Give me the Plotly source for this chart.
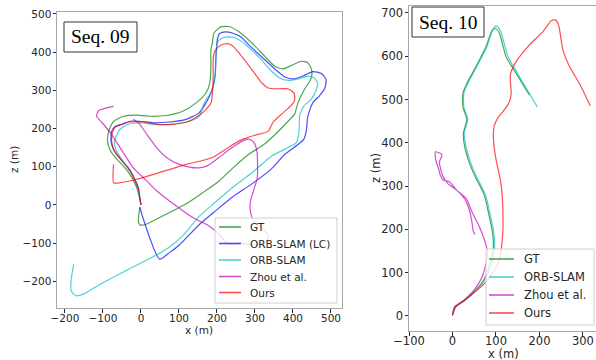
import plotly.graph_objects as go

# ---------------- Seq. 09 data ----------------
gt09_x = [0, -4, -11, -24, -42, -63, -80, -88, -85, -72, -46, -11, 23, 67, 110, 145, 171, 181, 184, 184, 188, 192, 210, 231, 257, 292, 326, 352, 374, 396, 422, 439, 449, 448, 430, 413, 404, 387, 361, 326, 283, 240, 205, 161, 119, 49, 10, -3, -7, -3]
gt09_z = [0, 19, 45, 71, 97, 119, 141, 167, 193, 219, 232, 235, 232, 234, 245, 267, 293, 319, 360, 406, 424, 450, 466, 467, 454, 424, 389, 363, 356, 365, 376, 372, 354, 332, 302, 267, 237, 219, 192, 160, 132, 95, 62, 31, 3, -33, -52, -52, -42, -7]

orblc09_x = [0, -3, -7, -18, -33, -53, -70, -79, -77, -68, -50, -29, -3, 32, 75, 119, 153, 171, 186, 195, 197, 198, 201, 207, 223, 240, 262, 292, 326, 359, 380, 404, 430, 452, 475, 487, 484, 469, 452, 439, 435, 428, 413, 378, 344, 292, 240, 197, 153, 101, 75, 49, 2, -3]
orblc09_z = [0, 19, 45, 71, 97, 119, 141, 167, 193, 205, 211, 219, 219, 215, 217, 224, 241, 267, 298, 337, 380, 398, 433, 449, 453, 450, 440, 411, 380, 350, 334, 330, 339, 349, 344, 328, 306, 285, 267, 232, 193, 171, 158, 132, 95, 55, 20, -15, -52, -105, -125, -142, -24, -5]

orb09_x = [0, -3, -7, -15, -26, -40, -55, -66, -70, -65, -55, -33, -3, 32, 75, 119, 153, 166, 186, 195, 197, 198, 203, 214, 231, 249, 275, 309, 344, 365, 387, 413, 439, 456, 465, 460, 448, 428, 417, 417, 415, 409, 387, 344, 292, 240, 197, 153, 110, 75, 32, -37, -106, -150, -171, -184, -184, -177]
orb09_z = [0, 15, 38, 62, 85, 105, 125, 145, 165, 180, 198, 211, 215, 211, 211, 217, 232, 266, 298, 337, 380, 407, 428, 437, 440, 437, 420, 388, 350, 332, 326, 330, 337, 332, 319, 298, 276, 258, 232, 219, 185, 163, 150, 128, 84, 45, 8, -30, -81, -110, -136, -171, -207, -233, -238, -225, -198, -155]

zhou09_x = [-20, -3, 15, 41, 67, 101, 127, 153, 174, 205, 240, 266, 283, 296, 305, 306, 296, 288, 288, 296, 322, 335, 330, 300, 260, 240, 223, 205, 179, 136, 93, 41, 15, -20, -55, -81, -102, -117, -111, -72]
zhou09_z = [224, 211, 185, 150, 124, 106, 99, 97, 102, 124, 150, 167, 172, 165, 141, 71, 37, 10, -16, -42, -64, -81, -95, -105, -100, -103, -97, -76, -55, -33, -3, 37, 63, 97, 150, 189, 215, 232, 247, 258]

ours09_x = [0, -3, -8, -20, -35, -53, -70, -77, -75, -68, -50, -29, 6, 41, 84, 127, 162, 184, 188, 190, 190, 192, 198, 210, 227, 240, 262, 292, 318, 335, 361, 387, 403, 404, 394, 374, 348, 335, 318, 309, 257, 188, 119, -11, -55, -72, -72]
ours09_z = [0, 20, 45, 72, 97, 119, 141, 165, 190, 203, 211, 217, 217, 211, 211, 219, 241, 266, 293, 337, 380, 395, 407, 418, 422, 417, 393, 354, 319, 306, 304, 304, 292, 272, 259, 241, 217, 193, 187, 185, 167, 124, 106, 67, 58, 58, 106]

# ---------------- Seq. 10 data ----------------
gt10_x = [0, 5, 24, 54, 74, 89, 94, 91, 83, 74, 62, 54, 39, 28, 25, 33, 24, 24, 33, 54, 77, 91, 99, 108, 123, 146, 177]
gt10_z = [2, 21, 33, 60, 87, 129, 160, 199, 237, 276, 303, 318, 353, 391, 422, 454, 483, 514, 537, 576, 622, 659, 664, 653, 599, 561, 510]

orb10_x = [0, 6, 26, 56, 77, 92, 97, 94, 86, 77, 65, 57, 42, 31, 27, 35, 26, 26, 35, 56, 79, 93, 101, 111, 127, 152, 195]
orb10_z = [2, 21, 33, 60, 87, 129, 160, 199, 237, 276, 303, 318, 353, 391, 422, 454, 483, 514, 537, 576, 622, 662, 670, 657, 601, 556, 483]

zhou10_x = [0, 5, 25, 50, 68, 78, 80, 72, 60, 45, 31, 10, -7, -21, -28, -32, -38, -39, -24, -30, -23, -10, 10, 28, 40, 45, 48, 52]
zhou10_z = [0, 20, 35, 60, 90, 125, 150, 180, 210, 240, 272, 290, 310, 314, 325, 340, 358, 379, 372, 355, 325, 305, 290, 270, 240, 215, 195, 188]

ours10_x = [0, 8, 39, 74, 97, 108, 112, 116, 116, 114, 110, 99, 94, 96, 104, 120, 131, 135, 133, 146, 177, 208, 227, 237, 244, 254, 269, 292, 317]
ours10_z = [2, 21, 45, 75, 106, 129, 152, 199, 237, 283, 314, 368, 414, 439, 457, 477, 495, 514, 557, 587, 626, 657, 682, 684, 672, 614, 576, 537, 485]

ticks09_x = [-200, -100, 0, 100, 200, 300, 400, 500]
ticks09_z = [-200, -100, 0, 100, 200, 300, 400, 500]
ticks10_x = [-100, 0, 100, 200, 300]
ticks10_z = [0, 100, 200, 300, 400, 500, 600, 700]

names09 = ["GT", "ORB-SLAM (LC)", "ORB-SLAM", "Zhou et al.", "Ours"]
names10 = ["GT", "ORB-SLAM", "Zhou et al.", "Ours"]

C_GT = "rgba(0,128,0,0.7)"
C_LC = "rgba(0,0,255,0.7)"
C_ORB = "rgba(0,191,191,0.7)"
C_ZHOU = "rgba(191,0,191,0.7)"
C_OURS = "rgba(255,0,0,0.7)"
LW = 1.2
W, H = 596, 360

def px(x):
    return x / W

def py(y):
    return 1 - y / H

fig = go.Figure()

def add(x, z, name, color, xa, ya):
    fig.add_trace(go.Scatter(x=x, y=z, mode="lines", name=name,
                             line=dict(color=color, width=LW, shape="spline", smoothing=0.6),
                             xaxis=xa, yaxis=ya, showlegend=False, hoverinfo="skip"))

cols09 = [C_GT, C_LC, C_ORB, C_ZHOU, C_OURS]
data09 = [(gt09_x, gt09_z), (orblc09_x, orblc09_z), (orb09_x, orb09_z), (zhou09_x, zhou09_z), (ours09_x, ours09_z)]
for (xs, zs), n, c in zip(data09, names09, cols09):
    add(xs, zs, n, c, "x", "y")

cols10 = [C_GT, C_ORB, C_ZHOU, C_OURS]
data10 = [(gt10_x, gt10_z), (orb10_x, orb10_z), (zhou10_x, zhou10_z), (ours10_x, ours10_z)]
for (xs, zs), n, c in zip(data10, names10, cols10):
    add(xs, zs, n, c, "x2", "y2")

def axis(fs, standoff):
    return dict(showline=True, mirror=True, linecolor="#a6a6a6", linewidth=1,
                ticks="outside", ticklen=3.5, tickcolor="#262626", tickwidth=1,
                showgrid=False, zeroline=False, automargin=False, ticklabelstandoff=standoff,
                tickfont=dict(family="DejaVu Sans", size=fs, color="#262626"))

fig.update_layout(
    width=W, height=H,
    margin=dict(l=0, r=0, t=0, b=0, autoexpand=False),
    paper_bgcolor="white", plot_bgcolor="white",
    xaxis=dict(domain=[px(57), px(342)], range=[-221, 529], tickvals=ticks09_x, anchor="y", **axis(10.5, -3)),
    yaxis=dict(domain=[py(308), py(12)], range=[-270, 505], tickvals=ticks09_z, anchor="x", **axis(10.5, -1)),
    xaxis2=dict(domain=[px(409), 1.0], range=[-100, 330], tickvals=ticks10_x, anchor="y2", **axis(11.5, -4)),
    yaxis2=dict(domain=[py(331), py(6)], range=[-35, 716], tickvals=ticks10_z, anchor="x2", **axis(11.5, -1)),
    showlegend=False,
    hovermode=False,
)

shapes = []
annos = []

# Title boxes
def title_box(x0, x1, y0, y1, text):
    shapes.append(dict(type="rect", xref="paper", yref="paper", x0=px(x0), x1=px(x1), y0=py(y1), y1=py(y0),
                       line=dict(color="#333333", width=1), fillcolor="white", layer="above"))
    annos.append(dict(text=text, x=px((x0 + x1) / 2), y=py((y0 + y1) / 2), xref="paper", yref="paper",
                      showarrow=False, xanchor="center", yanchor="middle",
                      font=dict(family="Liberation Serif", size=19.5, color="black")))

title_box(64, 137, 22, 52, "Seq. 09")
title_box(412, 484, 7, 37, "Seq. 10")

# Legends (matplotlib-style boxes)
def legend(x0, x1, y0, y1, names, cols, ys, lx0, lx1, tx, fs):
    shapes.append(dict(type="rect", xref="paper", yref="paper", x0=px(x0), x1=px(x1), y0=py(y1), y1=py(y0),
                       line=dict(color="#d0d0d0", width=1), fillcolor="rgba(255,255,255,0.8)", layer="above"))
    for n, c, yy in zip(names, cols, ys):
        shapes.append(dict(type="line", xref="paper", yref="paper", x0=px(lx0), x1=px(lx1), y0=py(yy), y1=py(yy),
                           line=dict(color=c, width=1.6), layer="above"))
        annos.append(dict(text=n, x=px(tx), y=py(yy), xref="paper", yref="paper", showarrow=False,
                          xanchor="left", yanchor="middle",
                          font=dict(family="DejaVu Sans", size=fs, color="#262626")))

legend(215, 337, 218, 303, names09, cols09, [227, 243.5, 260, 276.5, 292.5], 219, 241, 248, 10.5)
legend(486, 594, 249, 325, names10, cols10, [259, 277, 295, 313], 489, 514, 522, 11.5)

# Axis titles
annos.append(dict(text="x (m)", x=px(199), y=py(330), xref="paper", yref="paper", showarrow=False,
                  xanchor="center", yanchor="middle", font=dict(family="DejaVu Sans", size=10.5, color="#262626")))
annos.append(dict(text="z (m)", x=px(14), y=py(160), xref="paper", yref="paper", showarrow=False, textangle=-90,
                  xanchor="center", yanchor="middle", font=dict(family="DejaVu Sans", size=10.5, color="#262626")))
annos.append(dict(text="x (m)", x=px(503), y=py(354), xref="paper", yref="paper", showarrow=False,
                  xanchor="center", yanchor="middle", font=dict(family="DejaVu Sans", size=11.5, color="#262626")))
annos.append(dict(text="z (m)", x=px(376), y=py(168), xref="paper", yref="paper", showarrow=False, textangle=-90,
                  xanchor="center", yanchor="middle", font=dict(family="DejaVu Sans", size=11.5, color="#262626")))

fig.update_layout(shapes=shapes, annotations=annos)

fig.write_html("out.html", config={"displayModeBar": False, "staticPlot": True},
               post_script="document.body.style.margin='0';document.body.style.padding='0';document.body.style.overflow='hidden';")
